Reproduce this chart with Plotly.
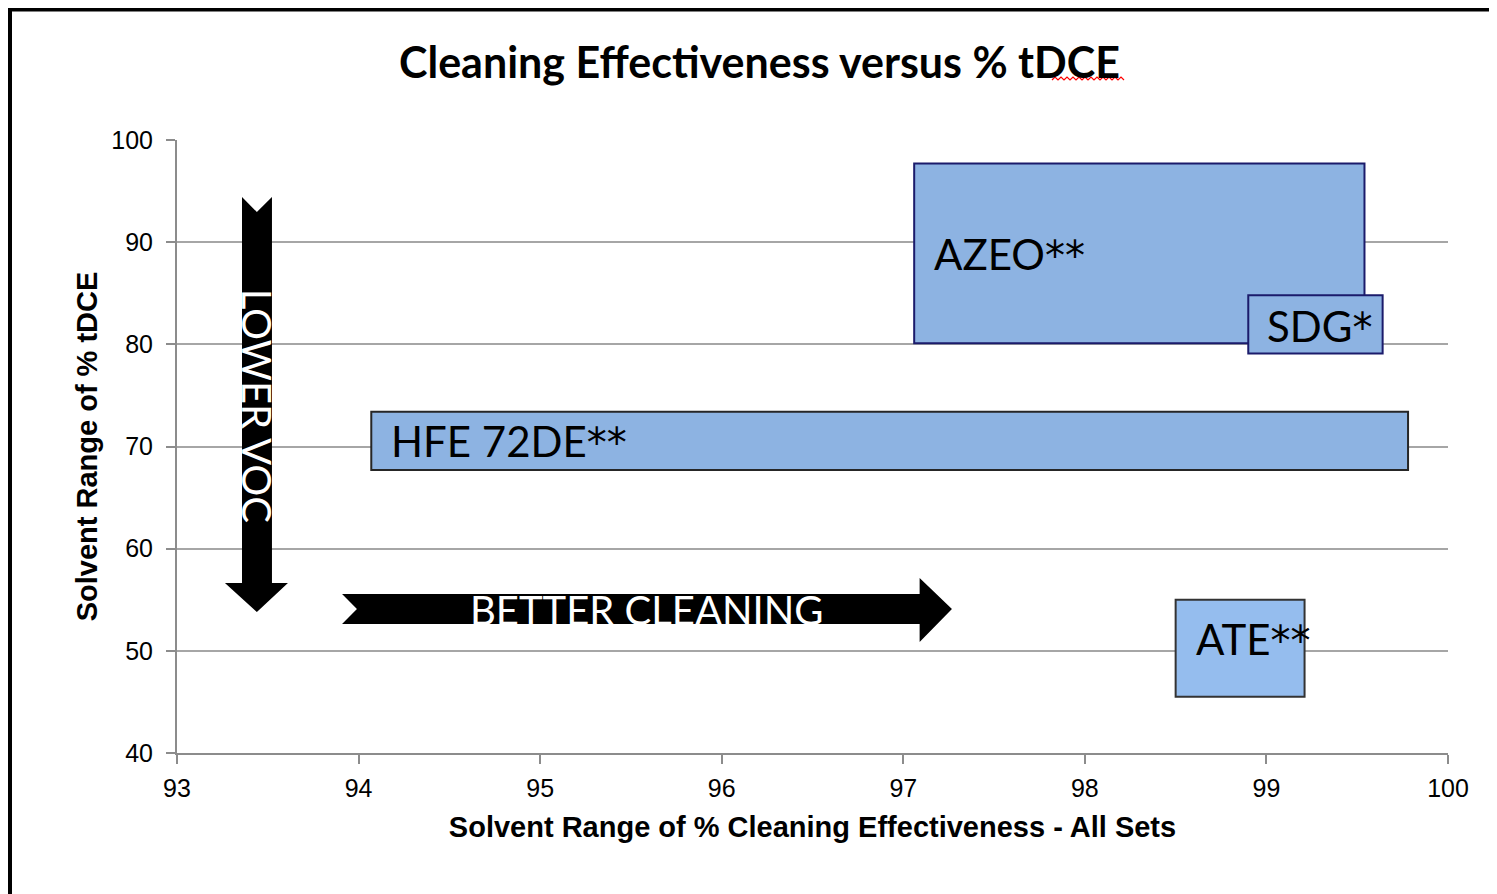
import plotly.graph_objects as go

# ---- data ----
solvents = ["AZEO**", "SDG*", "HFE 72DE**", "ATE**"]
clean_min = [97.06, 98.90, 94.07, 98.50]   # % cleaning effectiveness range
clean_max = [99.54, 99.64, 99.78, 99.21]
tdce_min = [80.1, 79.1, 67.7, 45.5]        # % tDCE range
tdce_max = [97.7, 84.8, 73.4, 55.0]

x_ticks = [93, 94, 95, 96, 97, 98, 99, 100]
y_ticks = [40, 50, 60, 70, 80, 90, 100]

title_text = "Cleaning Effectiveness versus % tDCE"
x_title = "Solvent Range of % Cleaning Effectiveness - All Sets"
y_title = "Solvent Range of % tDCE"

# ---- styling ----
fills = ["#8DB3E2", "#8DB3E2", "#8DB3E2", "#95BDEE"]
edges = ["#1B1B6B", "#1B1B6B", "#262626", "#333333"]
OFF = 8  # page body margin
W, H = 1497 - OFF, 894 - OFF
ML, MT = 177 - OFF, 140 - OFF
MR = W - (1448 - OFF)
MB = H - (753 - OFF)
PW, PH = W - ML - MR, H - MT - MB

def px(xp):  # screen pixel -> paper x
    return (xp - OFF - ML) / PW

def py(yp):  # screen pixel -> paper y
    return 1 - (yp - OFF - MT) / PH

fig = go.Figure()
fig.add_trace(go.Scatter(x=[93, 100], y=[40, 100], mode="markers",
                         marker=dict(opacity=0), hoverinfo="skip", showlegend=False))

shapes = []
annotations = []
for i, name in enumerate(solvents):
    shapes.append(dict(type="rect", xref="x", yref="y",
                       x0=clean_min[i], x1=clean_max[i], y0=tdce_min[i], y1=tdce_max[i],
                       fillcolor=fills[i], line=dict(color=edges[i], width=2), layer="above"))

def lab(s):
    return s.replace("*", "<span style='font-family:DejaVu Sans;font-size:40px'>*</span>")

lab_font = dict(family="Lato, 'Open Sans', sans-serif", size=42, color="black")
annotations.append(dict(x=clean_min[0], y=(tdce_min[0] + tdce_max[0]) / 2 - 0.1, xref="x", yref="y",
                        text=lab(solvents[0]), showarrow=False, xanchor="left", xshift=18, font=lab_font))
annotations.append(dict(x=(clean_min[1] + clean_max[1]) / 2, y=(tdce_min[1] + tdce_max[1]) / 2 - 0.2,
                        xref="x", yref="y", text=lab(solvents[1]), showarrow=False, xanchor="center",
                        xshift=4, font=lab_font))
annotations.append(dict(x=clean_min[2], y=(tdce_min[2] + tdce_max[2]) / 2 + 0.0, xref="x", yref="y",
                        text=lab(solvents[2]), showarrow=False, xanchor="left", xshift=18, font=lab_font))
annotations.append(dict(x=clean_min[3], y=(tdce_min[3] + tdce_max[3]) / 2 + 0.9, xref="x", yref="y",
                        text=lab(solvents[3]), showarrow=False, xanchor="left", xshift=18, font=lab_font))

# vertical arrow (LOWER VOC)
vx_l, vx_r, vx_c = 93.358, 93.523, 93.44
vh_l, vh_r = 93.264, 93.611
v_top, v_notch, v_head, v_tip = 94.42, 92.95, 56.64, 53.8
shapes.append(dict(type="path", xref="x", yref="y",
                   path=f"M {vx_l},{v_top} L {vx_c},{v_notch} L {vx_r},{v_top} L {vx_r},{v_head} "
                        f"L {vh_r},{v_head} L {vx_c},{v_tip} L {vh_l},{v_head} L {vx_l},{v_head} Z",
                   fillcolor="black", line=dict(color="black", width=0), layer="above"))

# horizontal arrow (BETTER CLEANING)
hx_l, hx_notch, hx_head, hx_tip = 93.909, 93.991, 97.09, 97.268
hy_t, hy_b, hy_c = 55.56, 52.63, 54.1
hh_t, hh_b = 57.13, 50.87
shapes.append(dict(type="path", xref="x", yref="y",
                   path=f"M {hx_l},{hy_t} L {hx_head},{hy_t} L {hx_head},{hh_t} L {hx_tip},{hy_c} "
                        f"L {hx_head},{hh_b} L {hx_head},{hy_b} L {hx_l},{hy_b} L {hx_notch},{hy_c} Z",
                   fillcolor="black", line=dict(color="black", width=0), layer="above"))

arrow_font = dict(family="Lato, 'Open Sans', sans-serif", size=40, color="white")
annotations.append(dict(x=95.6, y=54.1, xref="x", yref="y", text="BETTER CLEANING",
                        showarrow=False, font=arrow_font, yshift=-1, xshift=-2))
annotations.append(dict(x=93.44, y=74.0, xref="x", yref="y", text="LOWER VOC",
                        showarrow=False, font=arrow_font, textangle=90))

# outer black border (extends beyond page)
shapes.append(dict(type="rect", xref="paper", yref="paper",
                   x0=px(10), x1=px(1497 + 20), y0=py(894 + 20), y1=py(OFF + 1.5),
                   fillcolor="rgba(0,0,0,0)", line=dict(color="black", width=4), layer="above"))

# red spell-check squiggle under "tDCE"
pts = []
xx = 1052
k = 0
while xx <= 1124:
    yy = 80 if k % 2 == 0 else 77
    pts.append(f"{px(xx)},{py(yy)}")
    xx += 3
    k += 1
shapes.append(dict(type="path", xref="paper", yref="paper",
                   path="M " + " L ".join(pts),
                   line=dict(color="#FF0000", width=1.2), layer="above"))

annotations.append(dict(x=px(759), y=py(61), xref="paper", yref="paper", text=f"<b>{title_text}</b>",
                        showarrow=False, xanchor="center", yanchor="middle",
                        font=dict(family="Lato, 'Open Sans', sans-serif", size=43, color="black")))

fig.update_layout(
    width=W, height=H,
    margin=dict(l=ML, r=MR, t=MT, b=MB),
    paper_bgcolor="white", plot_bgcolor="white",
    shapes=shapes, annotations=annotations,
    showlegend=False,
    xaxis=dict(range=[93, 100], tickvals=x_ticks, ticks="outside", ticklen=9, tickwidth=2,
               tickcolor="#8C8C8C", showline=True, linecolor="#8C8C8C", linewidth=2,
               showgrid=False, zeroline=False, ticklabelstandoff=3,
               tickfont=dict(family="Liberation Sans, Arial, sans-serif", size=25, color="black"),
               title=dict(text=f"<b>{x_title}</b>", standoff=16,
                          font=dict(family="Liberation Sans, Arial, sans-serif", size=29, color="black"))),
    yaxis=dict(range=[40, 100], tickvals=y_ticks, ticks="outside", ticklen=9, tickwidth=2,
               tickcolor="#8C8C8C", showline=True, linecolor="#8C8C8C", linewidth=2,
               showgrid=True, gridcolor="#A6A6A6", gridwidth=2, zeroline=False, ticklabelstandoff=8,
               tickfont=dict(family="Liberation Sans, Arial, sans-serif", size=25, color="black"),
               title=dict(text=f"<b>{y_title}</b>", standoff=5,
                          font=dict(family="Liberation Sans, Arial, sans-serif", size=29, color="black"))),
)

fig.write_html("out.html")
